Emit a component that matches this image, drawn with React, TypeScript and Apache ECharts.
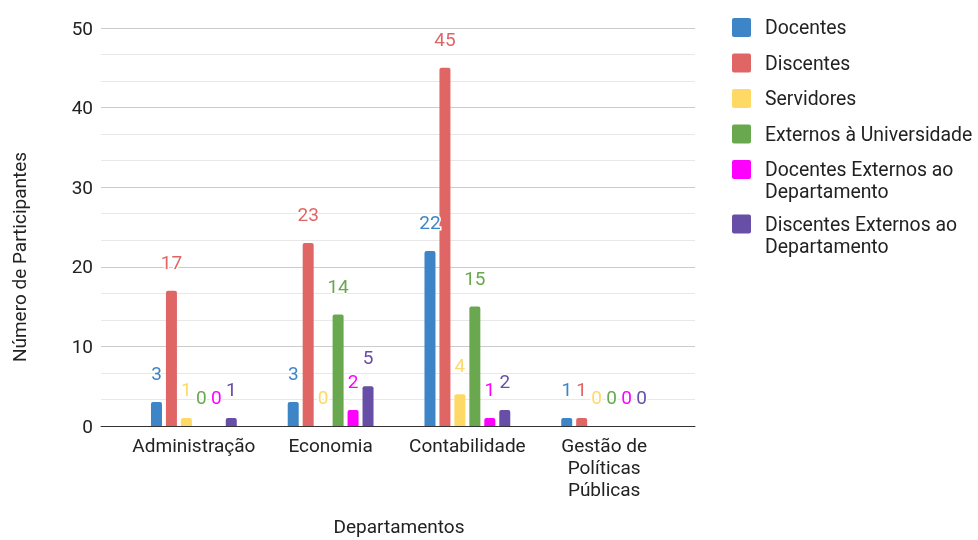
import React, { useEffect, useRef } from "react";
import * as echarts from "echarts";

const categories = ["Administração", "Economia", "Contabilidade", "Gestão de Políticas Públicas"];
const seriesNames = [
  "Docentes",
  "Discentes",
  "Servidores",
  "Externos à Universidade",
  "Docentes Externos ao Departamento",
  "Discentes Externos ao Departamento",
];
const docentes = [3, 3, 22, 1];
const discentes = [17, 23, 45, 1];
const servidores = [1, 0, 4, 0];
const externosUniversidade = [0, 14, 15, 0];
const docentesExternos = [0, 2, 1, 0];
const discentesExternos = [1, 5, 2, 0];
const seriesValues = [docentes, discentes, servidores, externosUniversidade, docentesExternos, discentesExternos];
const colors = ["#3d85c6", "#e06666", "#ffd966", "#6aa84f", "#ff00ff", "#674ea7"];

const FONT = "Roboto, Arial, sans-serif";

function wrap(text: string, maxChars: number): string {
  const words = text.split(" ");
  const lines: string[] = [];
  let cur = "";
  for (const w of words) {
    if (!cur) cur = w;
    else if ((cur + " " + w).length <= maxChars) cur += " " + w;
    else {
      lines.push(cur);
      cur = w;
    }
  }
  if (cur) lines.push(cur);
  return lines.join("\n");
}

export default function App() {
  const ref = useRef<HTMLDivElement>(null);
  useEffect(() => {
    if (!ref.current) return;
    const chart = echarts.init(ref.current, undefined, { renderer: "svg" });

    const legendGraphics: any[] = [];
    let cy = 27.5;
    seriesNames.forEach((name, i) => {
      const lines = wrap(name, 24).split("\n");
      legendGraphics.push({
        type: "rect",
        left: 732,
        top: cy - 9.5,
        shape: { width: 19, height: 19, r: 2 },
        style: { fill: colors[i] },
      });
      lines.forEach((ln, j) => {
        legendGraphics.push({
          type: "text",
          x: 765,
          y: cy + j * 22,
          style: {
            text: ln,
            fill: "#222",
            font: `19.4px ${FONT}`,
            verticalAlign: "middle",
            align: "left",
          },
        });
      });
      cy += 35.5 + 19 * (lines.length - 1);
    });

    chart.setOption({
      animation: false,
      textStyle: { fontFamily: FONT },
      grid: [
        { left: 101, right: 283, top: 28, bottom: 114, outerBoundsMode: "none", containLabel: false },
        { left: 125.5, right: 305.5, top: 28, bottom: 114, outerBoundsMode: "none", containLabel: false },
      ],
      xAxis: [
        {
          gridIndex: 0,
          type: "value",
          min: 0,
          max: 1,
          axisLabel: { show: false },
          axisTick: { show: false },
          splitLine: { show: false },
          axisLine: { show: true, lineStyle: { color: "#333", width: 1 } },
          z: 5,
        },
        {
          gridIndex: 1,
          type: "category",
          data: categories,
          axisLine: { show: false },
          axisTick: { show: false },
          axisLabel: {
            interval: 0,
            color: "#222",
            fontSize: 19,
            lineHeight: 22,
            margin: 8,
            formatter: (v: string) => wrap(v, 10),
          },
          name: "Departamentos",
          nameLocation: "middle",
          nameGap: 91,
          nameTextStyle: { color: "#222", fontSize: 19 },
        },
      ],
      yAxis: [
        {
          gridIndex: 0,
          type: "value",
          min: 0,
          max: 50,
          interval: 10,
          axisLine: { show: false },
          axisTick: { show: false },
          axisLabel: { color: "#222", fontSize: 19, margin: 8 },
          splitLine: { show: true, lineStyle: { color: "#cccccc", width: 1 } },
          minorTick: { show: false, splitNumber: 3 },
          minorSplitLine: { show: true, lineStyle: { color: "#e8e8e8", width: 1 } },
          name: "Número de Participantes",
          nameLocation: "middle",
          nameGap: 72,
          nameTextStyle: { color: "#222", fontSize: 19, padding: [0, 60, 0, 0] },
        },
        { gridIndex: 1, type: "value", min: 0, max: 50, show: false },
      ],
      series: seriesNames.map((name, i) => ({
        name,
        type: "bar",
        xAxisIndex: 1,
        yAxisIndex: 1,
        data: seriesValues[i],
        barWidth: 11,
        barGap: "36%",
        itemStyle: { color: colors[i], borderRadius: [2, 2, 0, 0] },
        label: {
          show: true,
          position: "top",
          distance: 19,
          color: colors[i],
          fontSize: 19,
          textBorderColor: "#fff",
          textBorderWidth: 3,
        },
      })),
      graphic: legendGraphics,
    });
    return () => chart.dispose();
  }, []);
  return <div ref={ref} style={{ position: "fixed", left: 0, top: 0, width: 978, height: 540 }} />;
}
